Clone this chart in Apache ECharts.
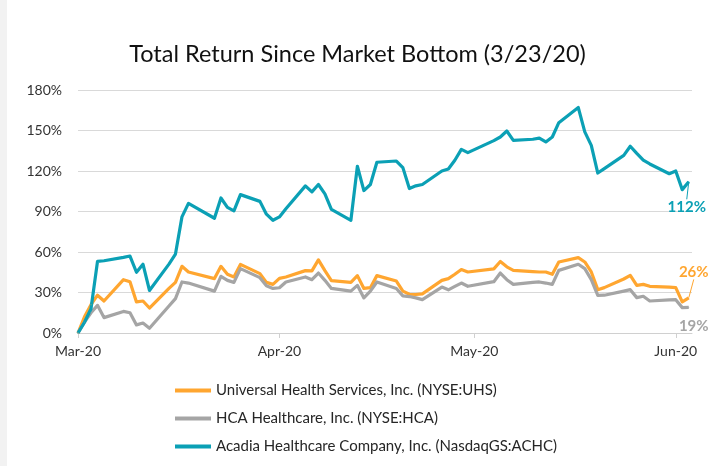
<!DOCTYPE html>
<html>
<head>
<meta charset="utf-8">
<script src="https://cdn.jsdelivr.net/npm/echarts@6/dist/echarts.min.js"></script>
<style>
  html, body { margin: 0; padding: 0; background: #fff; }
  #chart { width: 715px; height: 466px; }
</style>
</head>
<body>
<div id="chart"></div>
<script>
// trading days since the market bottom
var dates = [
	"2020-03-23", "2020-03-24", "2020-03-25", "2020-03-26", "2020-03-27",
	"2020-03-30", "2020-03-31", "2020-04-01", "2020-04-02", "2020-04-03",
	"2020-04-06", "2020-04-07", "2020-04-08", "2020-04-09",
	"2020-04-13", "2020-04-14", "2020-04-15", "2020-04-16", "2020-04-17",
	"2020-04-20", "2020-04-21", "2020-04-22", "2020-04-23", "2020-04-24",
	"2020-04-27", "2020-04-28", "2020-04-29", "2020-04-30", "2020-05-01",
	"2020-05-04", "2020-05-05", "2020-05-06", "2020-05-07", "2020-05-08",
	"2020-05-11", "2020-05-12", "2020-05-13", "2020-05-14", "2020-05-15",
	"2020-05-18", "2020-05-19", "2020-05-20", "2020-05-21", "2020-05-22",
	"2020-05-26", "2020-05-27", "2020-05-28", "2020-05-29",
	"2020-06-01", "2020-06-02", "2020-06-03", "2020-06-04", "2020-06-05",
	"2020-06-08", "2020-06-09", "2020-06-10", "2020-06-11", "2020-06-12",
	"2020-06-15", "2020-06-16", "2020-06-17", "2020-06-18", "2020-06-19",
	"2020-06-22", "2020-06-23", "2020-06-24", "2020-06-25"
];

// total return in %
var uhs = [
	0, 12, 21, 28, 23.7,
	39.5, 38, 23, 23.7, 18.5,
	33, 37.5, 49.4, 45.2,
	40.3, 49.4, 43.5, 41.5, 50.8,
	44, 37.5, 36, 40.5, 41.5,
	46.2, 46, 54.2, 46.2, 38.8,
	37.5, 42.5, 33, 33.6, 42.5,
	38.5, 31, 28.7, 28.5, 29,
	39, 40.3, 43.5, 47, 45.2,
	47.5, 53, 49, 46.4,
	45.5, 45.2, 45.2, 43.5, 52.6,
	55.8, 52.6, 45.2, 32.1, 33.6,
	40, 42.7, 35.3, 36, 34.6,
	34, 33.6, 23, 26
];
var hca = [
	0, 8, 15, 20.5, 11.4,
	16, 15, 6, 7.4, 3.5,
	20, 25.5, 37.8, 37,
	31, 42, 39, 37.5, 47.7,
	41, 35, 33, 33.5, 37.8,
	41.5, 39.5, 44.4, 39, 33,
	31, 35.3, 26, 31, 37.8,
	33, 27.5, 27, 26, 24.7,
	34, 32, 34.5, 37, 34.6,
	38, 44.4, 39.5, 36,
	37.5, 37.8, 37, 36, 46.4,
	50.9, 47.7, 39.5, 27.9, 28,
	31, 32.1, 26.2, 27.2, 23.7,
	24.5, 24.7, 18.8, 19
];
var achc = [
	0, 8, 18, 53, 53.5,
	56, 57, 45, 51, 31.5,
	51, 58.5, 86, 96,
	85, 100, 93, 90.5, 102.5,
	97.5, 88, 83.5, 86, 92,
	109, 104.5, 110, 103, 91.5,
	83.5, 123.5, 105.5, 110, 126.5,
	127.4, 122.5, 107, 109, 110,
	120, 121.5, 128, 136, 133.6,
	142.5, 145.2, 149.6, 142.7,
	143.5, 144.4, 141.5, 145.2, 155.8,
	167, 149, 139, 118.5, 121.8,
	131.6, 138.3, 133, 128, 125.2,
	118, 120, 106.2, 112
];

var names = [
	"Universal Health Services, Inc. (NYSE:UHS)",
	"HCA Healthcare, Inc. (NYSE:HCA)",
	"Acadia Healthcare Company, Inc. (NasdaqGS:ACHC)"
];
var colors = ["#FFA630", "#A5A5A5", "#0BA0B5"];

var tickDates = ["2020-03-23", "2020-04-23", "2020-05-23", "2020-06-23"];
var tickLabels = ["Mar-20", "Apr-20", "May-20", "Jun-20"];

function dayOf(d) {
	return Math.round((Date.parse(d) - Date.parse(dates[0])) / 864e5);
}
var tickDays = tickDates.map(dayOf);

// end label placement: [dx, dy, leader line]
var endLabels = [
	[5, -26, true],
	[5, 19, false],
	[-2, 25, true]
];

function build(values, i) {
	var data = values.map(function (v, k) {
		return [dayOf(dates[k]), v];
	});
	var last = data.length - 1;
	data[last] = {
		value: data[last],
		label: {
			show: true,
			position: "inside",
			formatter: Math.round(values[last]) + "%",
			color: colors[i],
			fontFamily: "Lato",
			fontWeight: "bold",
			fontSize: 15
		}
	};
	return {
		name: names[i],
		type: "line",
		data: data,
		symbol: "circle",
		symbolSize: 1,
		showSymbol: true,
		itemStyle: { color: colors[i] },
		lineStyle: { color: colors[i], width: 3.2, join: "round" },
		labelLayout: { dx: endLabels[i][0], dy: endLabels[i][1] },
		labelLine: {
			show: endLabels[i][2],
			lineStyle: { color: colors[i], width: 1 }
		}
	};
}

var chart = echarts.init(document.getElementById("chart"));
var option = {
	animation: false,
	backgroundColor: "#fff",
	textStyle: { fontFamily: "Lato" },
	graphic: [
		{
			type: "rect",
			shape: { x: 0, y: 0, width: 7, height: 466 },
			style: { fill: "#F2F2F2" },
			silent: true
		}
	],
	title: {
		text: "Total Return Since Market Bottom (3/23/20)",
		left: "center",
		top: 37,
		textStyle: {
			fontFamily: "Lato",
			fontWeight: "normal",
			fontSize: 23.5,
			color: "#111"
		}
	},
	grid: { left: 78, right: 23, top: 90, bottom: 133 },
	legend: {
		orient: "vertical",
		left: 170,
		top: 378,
		itemGap: 13,
		icon: "rect",
		itemWidth: 36,
		itemHeight: 4,
		textStyle: { fontFamily: "Lato", fontSize: 15, color: "#262626" },
		data: names
	},
	xAxis: {
		type: "value",
		min: 0,
		max: 94.5,
		splitLine: { show: false },
		axisLine: { lineStyle: { color: "#D0D0D0", width: 1 } },
		axisTick: {
			show: true,
			length: 5,
			customValues: tickDays,
			lineStyle: { color: "#D0D0D0" }
		},
		axisLabel: {
			customValues: tickDays,
			margin: 11,
			fontFamily: "Lato",
			fontSize: 14,
			color: "#333",
			formatter: function (v) {
				var i = tickDays.indexOf(Math.round(v));
				return i >= 0 ? tickLabels[i] : "";
			}
		}
	},
	yAxis: {
		type: "value",
		min: 0,
		max: 180,
		interval: 30,
		axisLine: { show: false },
		axisTick: { show: false },
		splitLine: { lineStyle: { color: "#D9D9D9", width: 1 } },
		axisLabel: {
			margin: 16,
			fontFamily: "Lato",
			fontSize: 14,
			color: "#333",
			formatter: "{value}%"
		}
	},
	series: [build(uhs, 0), build(hca, 1), build(achc, 2)]
};
chart.setOption(option);
window.addEventListener("resize", chart.resize);
</script>
</body>
</html>
